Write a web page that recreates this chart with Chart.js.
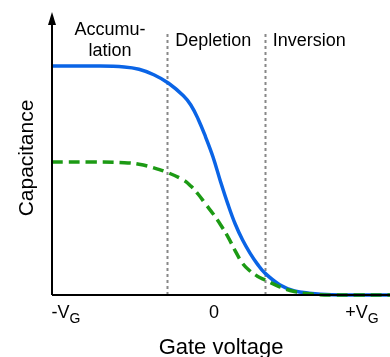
<!DOCTYPE html>
<html>
<head>
<meta charset="utf-8">
<script src="https://cdn.jsdelivr.net/npm/chart.js@4"></script>
<style>
  body { margin: 0; background: #fff; }
</style>
</head>
<body>
<canvas id="cvChart" width="390" height="357"></canvas>
<script>
// data
const gateVoltage = [-1.09, -0.8, -0.6, -0.5, -0.4, -0.3, -0.2, -0.15, -0.1, -0.05, 0, 0.05, 0.1, 0.15, 0.2, 0.25, 0.3, 0.35, 0.45, 0.55, 0.65, 0.8, 1.0, 1.2];
const capHigh = [1.0, 1.0, 0.996, 0.986, 0.962, 0.925, 0.87, 0.83, 0.768, 0.69, 0.603, 0.497, 0.398, 0.31, 0.24, 0.183, 0.135, 0.096, 0.045, 0.018, 0.008, 0.001, 0, 0];
const capLow = [0.581, 0.581, 0.578, 0.571, 0.555, 0.533, 0.502, 0.476, 0.44, 0.397, 0.355, 0.308, 0.255, 0.193, 0.138, 0.105, 0.082, 0.066, 0.036, 0.015, 0.005, 0, 0, 0];

const tickValues = [-1, 0, 1];
const tickLabels = ['-V', '0', '+V'];
const tickSubs = ['G', '', 'G'];

const regionBounds = [-0.31, 0.35];

const FONT = '"Liberation Sans", Arial, sans-serif';

function toPoints(ys) {
    return gateVoltage.map((x, i) => ({ x: x, y: ys[i] }));
}

// axes, arrows, labels and region markers
const decorPlugin = {
    id: 'decor',
    beforeDatasetsDraw(chart) {
        const ctx = chart.ctx;
        const xs = chart.scales.x;
        const area = chart.chartArea;
        ctx.save();
        ctx.strokeStyle = '#888';
        ctx.lineWidth = 2;
        ctx.setLineDash([3, 3]);
        regionBounds.forEach(v => {
            const px = Math.round(xs.getPixelForValue(v)) + 0.5;
            ctx.beginPath();
            ctx.moveTo(px, 34);
            ctx.lineTo(px, area.bottom);
            ctx.stroke();
        });
        ctx.restore();
    },
    afterDatasetsDraw(chart) {
        const ctx = chart.ctx;
        const xs = chart.scales.x;
        const area = chart.chartArea;
        ctx.save();

        // axes
        ctx.strokeStyle = '#000';
        ctx.fillStyle = '#000';
        ctx.lineWidth = 2;
        ctx.beginPath();
        ctx.moveTo(area.left, area.bottom);
        ctx.lineTo(area.right, area.bottom);
        ctx.moveTo(area.left, area.bottom);
        ctx.lineTo(area.left, area.top + 8);
        ctx.stroke();
        ctx.beginPath();
        ctx.moveTo(area.left, area.top);
        ctx.lineTo(area.left - 4, area.top + 13);
        ctx.lineTo(area.left + 4, area.top + 13);
        ctx.closePath();
        ctx.fill();

        // tick labels with subscript
        ctx.textBaseline = 'alphabetic';
        tickValues.forEach((v, i) => {
            const px = xs.getPixelForValue(v);
            ctx.font = '18px ' + FONT;
            const w1 = ctx.measureText(tickLabels[i]).width;
            ctx.font = '14px ' + FONT;
            const w2 = tickSubs[i] ? ctx.measureText(tickSubs[i]).width : 0;
            const start = px - (w1 + w2) / 2 + 1;
            ctx.textAlign = 'left';
            ctx.font = '18px ' + FONT;
            ctx.fillText(tickLabels[i], start, 318);
            if (tickSubs[i]) {
                ctx.font = '14px ' + FONT;
                ctx.fillText(tickSubs[i], start + w1, 323);
            }
        });

        // axis titles
        ctx.textAlign = 'center';
        ctx.font = '22px ' + FONT;
        ctx.fillText('Gate voltage', 221, 354);
        ctx.font = '21px ' + FONT;
        ctx.save();
        ctx.translate(33, 158);
        ctx.rotate(-Math.PI / 2);
        ctx.fillText('Capacitance', 0, 0);
        ctx.restore();

        // region labels
        ctx.font = '18px ' + FONT;
        ctx.textAlign = 'center';
        ctx.fillText('Accumu-', 110, 35);
        ctx.fillText('lation', 110, 56);
        ctx.textAlign = 'left';
        ctx.fillText('Depletion', xs.getPixelForValue(regionBounds[0]) + 8, 46);
        ctx.fillText('Inversion', xs.getPixelForValue(regionBounds[1]) + 8, 46);
        ctx.restore();
    }
};

const chart = new Chart(document.getElementById('cvChart').getContext('2d'), {
    type: 'scatter',
    data: {
        datasets: [{
            label: 'High frequency',
            data: toPoints(capLow),
            showLine: true,
            borderColor: '#1c9a14',
            borderWidth: 3.5,
            borderDash: [11, 6],
            pointRadius: 0,
            tension: 0.4,
            clip: false
        }, {
            label: 'Low frequency',
            data: toPoints(capHigh),
            showLine: true,
            borderColor: '#0a64e6',
            borderWidth: 3.5,
            pointRadius: 0,
            tension: 0.4,
            clip: false
        }]
    },
    options: {
        responsive: false,
        animation: false,
        layout: {
            padding: { left: 52, right: 0, top: 12, bottom: 62 }
        },
        plugins: {
            legend: { display: false },
            tooltip: { enabled: false }
        },
        scales: {
            x: { type: 'linear', min: -1.088, max: 1.196, display: false },
            y: { type: 'linear', min: 0, max: 1.236, display: false }
        }
    },
    plugins: [decorPlugin]
});
</script>
</body>
</html>
